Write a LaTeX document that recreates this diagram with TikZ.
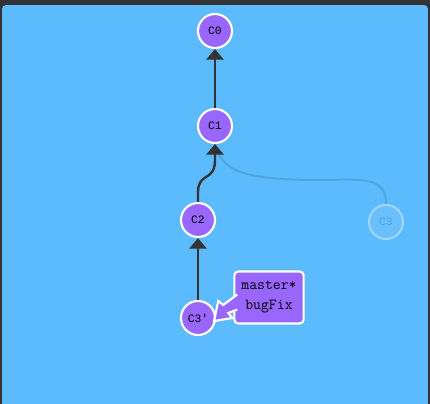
\documentclass[tikz,border=0pt]{standalone}
\usepackage{fontspec}
\newfontfamily\labelfont{Liberation Mono}
\usetikzlibrary{arrows.meta}
\definecolor{panel}{RGB}{92,187,252}
\definecolor{commit}{RGB}{153,102,255}
\definecolor{frame}{RGB}{51,51,51}
\definecolor{ghost}{RGB}{80,165,225}

\begin{document}
\begin{tikzpicture}[x=0.75pt,y=-0.75pt,
	commitnode/.style={circle,draw=white,line width=1.6pt,fill=commit,minimum size=25.5pt,inner sep=0pt,font=\labelfont\fontsize{8.5}{9}\selectfont},
	ghostnode/.style={commitnode,draw=white!40!panel,fill=white!8!panel,text=ghost},
	parent/.style={draw=frame,line width=1.8pt,-{Triangle[width=13pt,length=8pt]}},
	ghostedge/.style={draw=ghost,line width=1.5pt},
	branchtag/.style={rectangle,draw=white,line width=1.6pt,fill=commit,rounded corners=3pt,
		align=center,minimum width=52pt,minimum height=39pt,
		font=\ttfamily\fontsize{11.5}{15}\selectfont},
	tagpointer/.style={fill=commit,draw=white,line width=1.6pt,line join=miter}]
		\useasboundingbox (0,0) rectangle (430,404);
		\fill[frame] (0,0) rectangle (430,404);
		\fill[panel,rounded corners=3pt] (2,5) rectangle (428,412);
		\node[commitnode] (C0) at (215,31) {C0};
		\node[commitnode] (C1) at (215,126) {C1};
		\node[commitnode] (C2) at (198,220) {C2};
		\node[ghostnode] (C3) at (386,222) {C3};
		\node[commitnode] (C3p) at (198,318) {C3'};
		% faded parent link of the old commit
		\draw[ghostedge] (C3.north) .. controls (386,175) and (360,180) .. (320,180)
			.. controls (240,180) and (222,170) .. (C1.south);
		\draw[parent] (C1) -- (C0);
		\draw[parent] (C2.north) -- (198,192) .. controls (198,172) and (215,182) .. (215,160) -- (C1.south);
		\draw[parent] (C3p) -- (C2);
		\node[branchtag] (tag) at (269,297.5) {master*\\bugFix};
		% arrow of the branch label
		\path[tagpointer] ([shift={(4,-3)}]tag.west) -- ([shift={(-10,7.5)}]tag.west)
			-- ([shift={(-15,3.5)}]tag.west) -- ([shift={(-2,3)}]C3p.east)
			-- ([shift={(-1,20.5)}]tag.west) -- ([shift={(-5,15.5)}]tag.west)
			-- ([shift={(4,12)}]tag.west);
		\end{tikzpicture}
\end{document}
